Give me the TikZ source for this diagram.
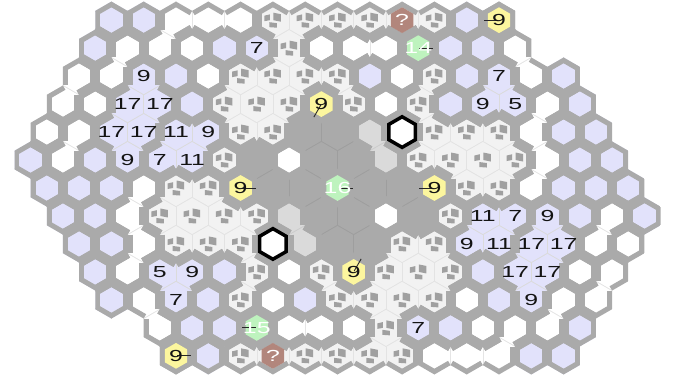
\documentclass[tikz,border=0pt]{standalone}
\usepackage{fontspec}
\newfontfamily\numfont[FakeStretch=1.55]{Liberation Sans}
\definecolor{bord}{RGB}{170,170,170}
\definecolor{lav}{RGB}{226,226,251}
\definecolor{lg}{RGB}{242,242,242}
\definecolor{midg}{RGB}{218,218,218}
\definecolor{yel}{RGB}{252,246,158}
\definecolor{grn}{RGB}{190,243,190}
\definecolor{qbr}{RGB}{178,134,124}
\definecolor{iconc}{RGB}{160,160,160}
\newcount\cj \newcount\cjm
\def\setrow#1#2#3{\gdef\currow{#1}\global\cj=#2\relax\setrowchars#3\relax}
\def\setrowchars#1{\ifx#1\relax\else
 \expandafter\xdef\csname cell-\currow-\the\cj\endcsname{#1}%
 \ifnum\currow<6\relax
   \cjm=-\cj
   \expandafter\xdef\csname cell-\the\numexpr12-\currow\relax-\the\cjm\endcsname{#1}%
 \fi
 \global\advance\cj by 2\relax
 \expandafter\setrowchars\fi}
\def\defcell#1#2#3#4{\expandafter\def\csname bg-#1\endcsname{#2}\expandafter\def\csname cls-#1\endcsname{#3}\expandafter\def\csname thin-#1\endcsname{#4}}
\defcell{l}{lav}{0}{lav}
\defcell{w}{white}{0}{white}
\defcell{W}{white}{W}{black!10}
\defcell{V}{white}{V}{black!10}
\defcell{U}{white}{U}{black!10}
\defcell{T}{white}{T}{black!10}
\defcell{S}{white}{S}{black!10}
\defcell{R}{white}{R}{black!10}
\defcell{g}{lg}{g}{black!11}
\defcell{G}{lg}{0}{lg}
\defcell{q}{lg}{g}{black!11}
\defcell{D}{bord}{D}{black!38}
\defcell{x}{midg}{x}{black!20}
\defcell{y}{bord}{0}{bord}
\defcell{e}{bord}{0}{bord}
\defcell{b}{bord}{0}{bord}
\defcell{A}{lav}{A}{black!14}
\defcell{B}{lav}{B}{black!14}
\defcell{C}{lav}{C}{black!14}
\setrow{0}{-14}{llWWWggggqgly}
\setrow{1}{-15}{lVWwllgwWWellR}
\setrow{2}{-16}{UVAlwgggglwglCRl}
\setrow{3}{-17}{UwAAlgggygwglCCSl}
\setrow{4}{-18}{wTAABBggDDxbgggSll}
\setrow{5}{-19}{lTlABBGDwDDxggggSll}
\setrow{6}{-18}{lllSggyDDeDDyggSlll}
\def\hexp#1{(30:#1) -- (90:#1) -- (150:#1) -- (210:#1) -- (270:#1) -- (330:#1) -- cycle}
\def\iconshape{%
 \fill[iconc] (-8.5,4.5) -- (-3,5.8) -- (-3,0) -- (-8.5,-1) -- cycle;
 \fill[iconc] (0.5,7.5) -- (8,6) -- (8,-1.5) -- (0.5,0) -- cycle;
 \fill[iconc] (-3.5,-2) -- (4,-3) -- (4,-7.5) -- (-3.5,-7) -- cycle;}
\newcommand\forcells[1]{\foreach \r in {0,...,12}{\foreach \j in {-19,...,19}{%
 \ifcsname cell-\r-\j\endcsname
  \pgfmathsetmacro\cx{337.5+16.15*\j}\pgfmathsetmacro\cy{-188-(\r-6)*27.97}%
  \edef\cc{\csname cell-\r-\j\endcsname}%
  #1%
 \fi}}}
\newcommand\edgepass[1]{\forcells{%
  \edef\ca{\csname cls-\cc\endcsname}%
  \edef\tc{\csname thin-\cc\endcsname}%
  \foreach \dr/\dj/\aa in {0/2/-30,-1/1/30,-1/-1/90,0/-2/150,1/-1/210,1/1/270}{%
    \edef\nr{\the\numexpr\r+\dr\relax}\edef\nj{\the\numexpr\j+\dj\relax}%
    \def\merged{0}%
    \ifcsname cell-\nr-\nj\endcsname
      \edef\cb{\csname cls-\csname cell-\nr-\nj\endcsname\endcsname}%
      \ifx\ca\cb \if0\ca\else\def\merged{1}\fi\fi
    \fi
    \pgfmathsetmacro\ab{\aa+60}%
    \if#1\merged
      \if1\merged
        \draw[draw=\tc,line width=0.5,shift={(\cx,\cy)}] (\aa:18.65) -- (\ab:18.65);
      \else
        \draw[draw=bord,line width=10,shift={(\cx,\cy)}] (\aa:18.65) -- (\ab:18.65);
      \fi
    \fi}}}
\def\cxy#1#2{({337.5+16.15*(#2)},{-188-((#1)-6)*27.97})}
\def\cxm#1#2{({337.5-16.15*(#2)},{-188-(6-(#1))*27.97})}
\newcommand\num[3]{\node[numtxt] at \cxy{#1}{#2} {#3}; \node[numtxt] at \cxm{#1}{#2} {#3};}
\newcommand\hint[3]{\draw[hintl] \cxy{#1}{#2} ++(#3:1) -- ++(#3:14); \draw[hintl] \cxm{#1}{#2} ++(#3+180:1) -- ++(#3+180:14);}
\begin{document}
\begin{tikzpicture}[x=1pt,y=1pt,
  numtxt/.style={font=\numfont\fontsize{16}{16}\selectfont,text=black!92,inner sep=0},
  gtxt/.style={font=\numfont\fontsize{16}{16}\selectfont,text=white,inner sep=0},
  hintl/.style={draw=black!85,line width=0.9}]
\useasboundingbox (0,0) rectangle (676,-381);
\gdef\clipp{}
\forcells{%
  \pgfmathsetmacro\xa{\cx+16.15}\pgfmathsetmacro\ya{\cy+9.325}%
  \xdef\clipp{\clipp (\xa,\ya) -- ++(-16.15,9.325) -- ++(-16.15,-9.325) -- ++(0,-18.65) -- ++(16.15,-9.325) -- ++(16.15,9.325) -- cycle}}
\begin{scope}
\clip \clipp;
\forcells{\edef\bgc{\csname bg-\cc\endcsname}\fill[fill=\bgc,shift={(\cx,\cy)}] \hexp{19.1};}
\edgepass{1}
\edgepass{0}
\forcells{%
  \if y\cc \fill[yel,shift={(\cx,\cy)}] \hexp{12.9};\fi
  \if e\cc \fill[grn,shift={(\cx,\cy)}] \hexp{12.9};\fi
  \if q\cc \fill[qbr,shift={(\cx,\cy)}] \hexp{12.9};\fi
  \if b\cc \fill[white,shift={(\cx,\cy)}] \hexp{15.3}; \draw[black,line width=3.5,shift={(\cx,\cy)}] \hexp{15.3};\fi
  \if g\cc \begin{scope}[shift={(\cx,\cy)}]\iconshape\end{scope}\fi
  \if G\cc \begin{scope}[shift={(\cx,\cy)}]\iconshape\end{scope}\fi
}
\end{scope}
\hint{0}{10}{180}
\hint{3}{-1}{240}
\hint{6}{-6}{0}
\hint{1}{5}{0}
\draw[hintl] \cxy{6}{0} ++(0:1) -- ++(0:14);
\num{1}{-5}{7}
\num{2}{-12}{9}\num{2}{10}{7}
\num{3}{-13}{17}\num{3}{-11}{17}\num{3}{9}{9}\num{3}{11}{5}
\num{4}{-14}{17}\num{4}{-12}{17}\num{4}{-10}{11}\num{4}{-8}{9}
\num{5}{-13}{9}\num{5}{-11}{7}\num{5}{-9}{11}
\num{0}{10}{9}\num{3}{-1}{9}\num{6}{-6}{9}
\node[gtxt] at \cxy{1}{5} {14};
\node[gtxt] at \cxy{11}{-5} {15};
\node[gtxt] at \cxy{6}{0} {16};
\node[gtxt] at \cxy{0}{4} {?};
\node[gtxt] at \cxy{12}{-4} {?};
\end{tikzpicture}
\end{document}
